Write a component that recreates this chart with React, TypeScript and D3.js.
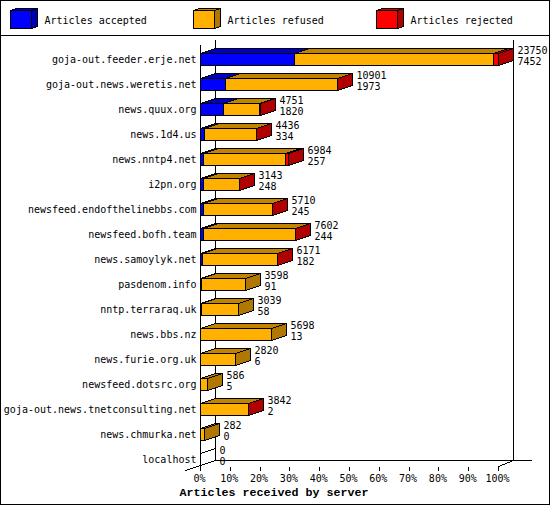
import React from "react";
import * as d3 from "d3";

const servers = ["goja-out.feeder.erje.net","goja-out.news.weretis.net","news.quux.org","news.1d4.us","news.nntp4.net","i2pn.org","newsfeed.endofthelinebbs.com","newsfeed.bofh.team","news.samoylyk.net","pasdenom.info","nntp.terraraq.uk","news.bbs.nz","news.furie.org.uk","newsfeed.dotsrc.org","goja-out.news.tnetconsulting.net","news.chmurka.net","localhost"];
const totals = [23750,10901,4751,4436,6984,3143,5710,7602,6171,3598,3039,5698,2820,586,3842,282,0];
const accepted = [7452,1973,1820,334,257,248,245,244,182,91,58,13,6,5,2,0,0];
const rejected = [375,12,15,12,240,12,10,12,14,0,0,0,0,0,9,0,0];
const xTicks = [0,10,20,30,40,50,60,70,80,90,100];
const legendNames = ["Articles accepted","Articles refused","Articles rejected"];
const legendX = [10,193,376];
const xTitle = "Articles received by server";

const fills = ["#0000ff","#ffb000","#ff0000"];
const tops = ["#0000c0","#c08400","#c00000"];
const sides = ["#0000b0","#b07800","#b00000"];
const DX = 15, DY = 5;
const MONO = "'DejaVu Sans Mono', monospace";

const pct = d3.scaleLinear().domain([0, 100]).range([200, 498]);
const x = d3.scaleLinear().domain([0, d3.max(totals) as number]).range([200, 498]);
const y = d3.scaleBand<string>().domain(servers).range([53, 478]).paddingInner(0);
const BAR_H = 12;
const px = (v: number) => Math.round(v) + 0.5;
const poly = (pts: number[][]) => (d3.line()(pts as [number, number][]) as string) + "Z";
const stroke = { stroke: "#000", strokeWidth: 1 };

function Bar({ i }: { i: number }) {
  const top = (y(servers[i]) as number) + 0.5;
  const bot = top + BAR_H;
  const vals = [accepted[i], totals[i] - accepted[i] - rejected[i], rejected[i]];
  let cum = 0;
  const segs = vals.map((v, k) => {
    const a = px(x(cum));
    cum += v;
    return { k, v, a, b: px(x(cum)) };
  });
  const shown = segs.filter((s) => s.v > 0);
  const last = shown[shown.length - 1];
  const end = px(x(totals[i]));
  return (
    <g>
      {shown.map((s) => (
        <path key={"t" + s.k} d={poly([[s.a, top], [s.b, top], [s.b + DX, top - DY], [s.a + DX, top - DY]])} fill={tops[s.k]} {...stroke} />
      ))}
      {shown.map((s) => (
        <rect key={"f" + s.k} x={s.a} y={top} width={s.b - s.a} height={BAR_H} fill={fills[s.k]} {...stroke} />
      ))}
      {last ? (
        <path d={poly([[end, top], [end + DX, top - DY], [end + DX, bot - DY], [end, bot]])} fill={sides[last.k]} {...stroke} />
      ) : (
        <path d={`M${end},${top}L${end + DX},${top - DY}M${end},${bot}L${end + DX},${bot - DY}`} fill="none" {...stroke} />
      )}
      <text x={end + DX + 4} y={top + 0.5} fontFamily={MONO} fontSize={10} fill="#000">{totals[i]}</text>
      <text x={end + DX + 4} y={top + 11.5} fontFamily={MONO} fontSize={10} fill="#000">{accepted[i]}</text>
      <text x={196.5} y={top + 9} textAnchor="end" fontFamily={MONO} fontSize={10} fill="#000">{servers[i]}</text>
    </g>
  );
}

export default function App() {
  const floorFront = 466.5, floorBack = 460.5;
  const left = px(pct(0)), right = px(pct(100));
  return (
    <svg width={550} height={505} viewBox="0 0 550 505" shapeRendering="crispEdges" style={{ position: "absolute", left: 0, top: 0, background: "#fff" }}>
      <rect x={0.5} y={0.5} width={549} height={504} fill="#fff" {...stroke} />
      <line x1={0} x2={550} y1={35.5} y2={35.5} {...stroke} />
      {legendNames.map((n, k) => {
        const lx = legendX[k] + 0.5;
        return (
          <g key={n}>
            <path d={poly([[lx, 10.5], [lx + 6, 8.5], [lx + 27, 8.5], [lx + 21, 10.5]])} fill={tops[k]} {...stroke} />
            <path d={poly([[lx + 21, 10.5], [lx + 27, 8.5], [lx + 27, 26.5], [lx + 21, 28.5]])} fill={sides[k]} {...stroke} />
            <rect x={lx} y={10.5} width={21} height={18} fill={fills[k]} {...stroke} />
            <text x={lx + 34} y={23.5} fontFamily={MONO} fontSize={10} fill="#000">{n}</text>
          </g>
        );
      })}
      <line x1={left + DX} x2={left + DX} y1={40} y2={floorBack} {...stroke} />
      <line x1={right + DX} x2={right + DX} y1={40} y2={floorBack} {...stroke} />
      <line x1={left} x2={left} y1={45} y2={floorFront} {...stroke} />
      <line x1={left + DX} x2={532} y1={floorBack} y2={floorBack} {...stroke} />
      <path d={`M185.5,470.5L${left + DX},${floorBack}`} fill="none" {...stroke} />
      <path d={`M${right},${floorFront}L${right + DX},${floorBack}`} fill="none" {...stroke} />
      {servers.map((_, i) => <Bar key={i} i={i} />)}
      {xTicks.map((t) => (
        <g key={t}>
          <line x1={px(pct(t))} x2={px(pct(t))} y1={floorFront} y2={471} {...stroke} />
          <text x={pct(t) - 0.5} y={482} textAnchor="middle" fontFamily={MONO} fontSize={10} fill="#000">{t}%</text>
        </g>
      ))}
      <text x={274} y={495.5} textAnchor="middle" fontFamily="'Liberation Mono', monospace" fontSize={11.67} fontWeight="bold" fill="#000">{xTitle}</text>
    </svg>
  );
}
